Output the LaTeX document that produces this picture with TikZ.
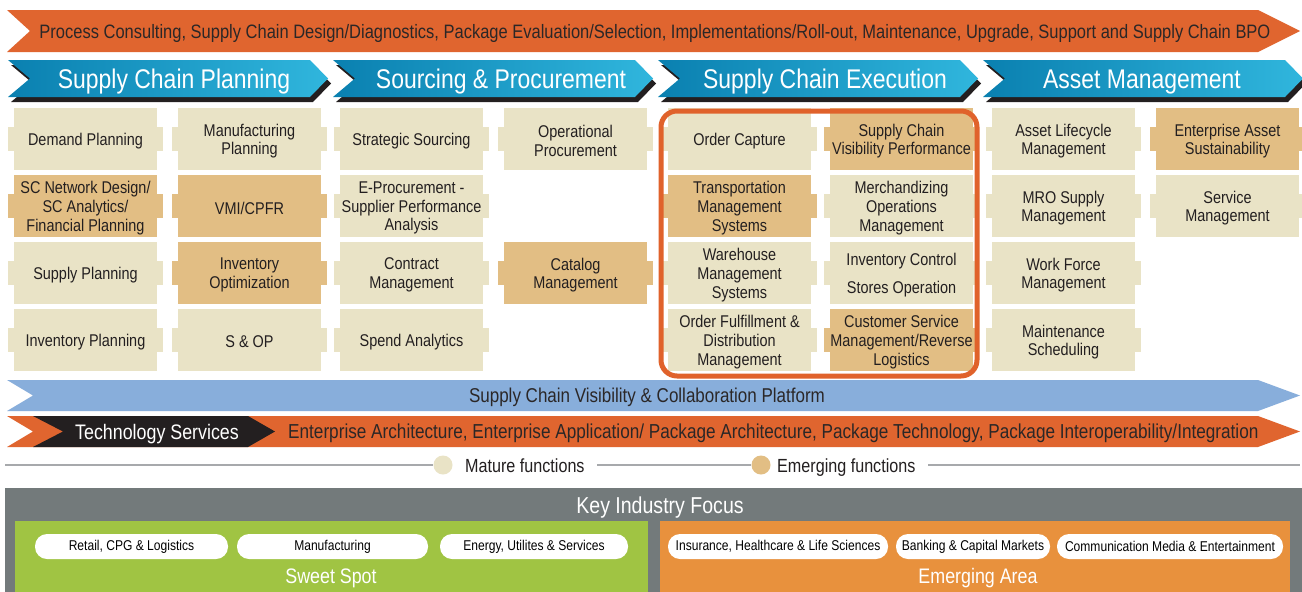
\documentclass[tikz,border=0pt]{standalone}
\usepackage{fontspec}
\setmainfont[FakeStretch=0.85]{Liberation Sans}
\usetikzlibrary{calc}
\definecolor{bandorange}{HTML}{E0652F}
\definecolor{txtdark}{HTML}{2B2727}
\definecolor{hdrdark}{HTML}{0A80B0}
\definecolor{hdrlight}{HTML}{30B6DD}
\definecolor{mature}{HTML}{E9E3C6}
\definecolor{emerging}{HTML}{E2BE84}
\definecolor{bandblue}{HTML}{88AEDB}
\definecolor{techblack}{HTML}{231F20}
\definecolor{legendgray}{HTML}{A7A9AC}
\definecolor{panelgray}{HTML}{737A7B}
\definecolor{sweetgreen}{HTML}{A0C443}
\definecolor{emergorange}{HTML}{E8913D}
\definecolor{outlineorange}{HTML}{E0622B}
\newcommand\funcbox[5]{%
  \fill[#4] ({#2-6},{#3-12}) rectangle ({#2+149},{#3+12});
  \fill[#4] (#2,{#3-31}) rectangle ({#2+143},{#3+31});
  \node[fnbox] (#1) at ({#2+71.5},{#3+2}) {#5};
}
\newcommand\hdrchev[4]{%
  \fill[techblack] ({#1+3},65) -- ({#1+305},65) -- ({#1+323},83.5) -- ({#1+305},102) -- ({#1+3},102) -- ({#1+25},83.5) -- cycle;
  \shade[left color=hdrdark, right color=hdrlight] (#1,60) -- ({#1+302},60) -- ({#1+320},78.5) -- ({#1+302},97) -- (#1,97) -- ({#1+22},78.5) -- cycle;
  \node[hdrtext, anchor=base] (#2) at ({#1+#3},88) {#4};
}
\begin{document}
\begin{tikzpicture}[x=1pt,y=-1pt,
  fnbox/.style={inner sep=0pt, align=center,
    text=techblack, font=\fontsize{17}{18.7}\selectfont},
  hdrtext/.style={text=white, inner sep=0pt, font=\fontsize{27}{30}\selectfont},
  bandtext/.style={text=txtdark, inner sep=0pt, font=\fontsize{20}{22}\selectfont},
  legtext/.style={text=techblack, inner sep=0pt, font=\fontsize{19}{22}\selectfont},
  pill/.style={fill=white, rounded corners=12pt, minimum height=25pt, inner sep=0pt,
    text=black, font=\fontsize{14.2}{16}\selectfont},
  areatext/.style={text=white, inner sep=0pt, font=\fontsize{21}{24}\selectfont}]
\useasboundingbox (0,0) rectangle (1302,592);
\fill[white] (0,0) rectangle (1302,592);

% top banner
\fill[bandorange] (7,10) -- (1258,10) -- (1300,31) -- (1258,52) -- (7,52) -- (30,31) -- cycle;
\node[bandtext, anchor=base, font=\fontsize{19.4}{22}\selectfont] (services) at (655,38) {Process Consulting, Supply Chain Design/Diagnostics, Package Evaluation/Selection, Implementations/Roll-out, Maintenance, Upgrade, Support and Supply Chain BPO};

% header chevrons
\hdrchev{8}{scp}{166}{Supply Chain Planning}
\hdrchev{333}{spr}{168}{Sourcing \& Procurement}
\hdrchev{658}{sce}{167}{Supply Chain Execution}
\hdrchev{983}{am}{159}{Asset Management}

% column 1
\funcbox{c1r1}{14}{139}{mature}{Demand Planning}
\funcbox{c1r2}{14}{206}{emerging}{SC Network Design/\\SC Analytics/\\Financial Planning}
\funcbox{c1r3}{14}{273}{mature}{Supply Planning}
\funcbox{c1r4}{14}{340}{mature}{Inventory Planning}
% column 2
\funcbox{c2r1}{178}{139}{mature}{Manufacturing\\Planning}
\funcbox{c2r2}{178}{206}{emerging}{VMI/CPFR}
\funcbox{c2r3}{178}{273}{emerging}{Inventory\\Optimization}
\funcbox{c2r4}{178}{340}{mature}{S \& OP}
% column 3
\funcbox{c3r1}{340}{139}{mature}{Strategic Sourcing}
\funcbox{c3r2}{340}{206}{mature}{E-Procurement -\\Supplier Performance\\Analysis}
\funcbox{c3r3}{340}{273}{mature}{Contract\\Management}
\funcbox{c3r4}{340}{340}{mature}{Spend Analytics}
% column 4
\funcbox{c4r1}{504}{139}{mature}{Operational\\Procurement}
\funcbox{c4r3}{504}{273}{emerging}{Catalog\\Management}
% column 5
\funcbox{c5r1}{668}{139}{mature}{Order Capture}
\funcbox{c5r2}{668}{206}{emerging}{Transportation\\Management\\Systems}
\funcbox{c5r3}{668}{273}{mature}{Warehouse\\Management\\Systems}
\funcbox{c5r4}{668}{340}{mature}{Order Fulfillment \&\\Distribution\\Management}
% column 6
\funcbox{c6r1}{830}{139}{emerging}{Supply Chain\\Visibility Performance}
\funcbox{c6r2}{830}{206}{mature}{Merchandizing\\Operations\\Management}
\funcbox{c6r3}{830}{273}{mature}{Inventory Control\\[10pt]Stores Operation}
\funcbox{c6r4}{830}{340}{emerging}{Customer Service\\Management/Reverse\\Logistics}
% column 7
\funcbox{c7r1}{992}{139}{mature}{Asset Lifecycle\\Management}
\funcbox{c7r2}{992}{206}{mature}{MRO Supply\\Management}
\funcbox{c7r3}{992}{273}{mature}{Work Force\\Management}
\funcbox{c7r4}{992}{340}{mature}{Maintenance\\Scheduling}
% column 8
\funcbox{c8r1}{1156}{139}{emerging}{Enterprise Asset\\Sustainability}
\funcbox{c8r2}{1156}{206}{mature}{Service\\Management}

% execution outline
\draw[outlineorange, line width=5pt, rounded corners=16pt] (661,111) rectangle (977,376);

% visibility band
\fill[bandblue] (7,380) -- (1258,380) -- (1300,395.5) -- (1258,411) -- (7,411) -- (33,395.5) -- cycle;
\node[bandtext, anchor=base] (platform) at (647,402.5) {Supply Chain Visibility \& Collaboration Platform};

% technology band
\fill[bandorange] (7,416) -- (1258,416) -- (1300,431.5) -- (1258,447) -- (7,447) -- (33,431.5) -- cycle;
\fill[techblack] (33,416) -- (248,416) -- (275,431.5) -- (248,447) -- (33,447) -- (63,431.5) -- cycle;
\node[text=white, inner sep=0pt, anchor=base, font=\fontsize{21}{24}\selectfont] (tech) at (157,439) {Technology Services};
\node[bandtext, anchor=base west, font=\fontsize{20.2}{22}\selectfont] (techlist) at (288,438.7) {Enterprise Architecture, Enterprise Application/ Package Architecture, Package Technology, Package Interoperability/Integration};

% legend
\node[legtext, anchor=base west] (matlbl) at (465,472) {Mature functions};
\node[legtext, anchor=base west] (emglbl) at (777,472) {Emerging functions};
\node[circle, fill=mature, minimum size=19pt, inner sep=0pt] (matdot) at (443,465) {};
\node[circle, fill=emerging, minimum size=19pt, inner sep=0pt] (emgdot) at (761,465) {};
\coordinate (legL) at (5,465);
\coordinate (legR) at (1300,465);
\coordinate (seg2) at (597,465);
\coordinate (seg3) at (928,465);
\draw[legendgray, line width=2pt] (legL) -- (matdot.west);
\draw[legendgray, line width=2pt] (seg2) -- (emgdot.west);
\draw[legendgray, line width=2pt] (seg3) -- (legR);

% key industry focus
\fill[panelgray] (5,488) rectangle (1302,592);
\node[text=white, inner sep=0pt, anchor=base, font=\fontsize{23}{26}\selectfont] (kif) at (660,513) {Key Industry Focus};
\fill[sweetgreen] (15,521) rectangle (648,592);
\fill[emergorange] (660,521) rectangle (1290,592);
\begin{scope}[every node/.append style={yshift=-1pt}]
\node[pill, minimum width=193pt] (retail) at (131.5,545.5) {Retail, CPG \& Logistics};
\node[pill, minimum width=191pt] (manu) at (332.5,545.5) {Manufacturing};
\node[pill, minimum width=188pt] (energy) at (534,545.5) {Energy, Utilites \& Services};
\node[pill, minimum width=220pt] (insur) at (778,545.5) {Insurance, Healthcare \& Life Sciences};
\node[pill, minimum width=154pt] (bank) at (973,545.5) {Banking \& Capital Markets};
\node[pill, minimum width=226pt] (comm) at (1170,545.5) {Communication Media \& Entertainment};
\end{scope}
\node[areatext, anchor=base] (sweet) at (331,583.5) {Sweet Spot};
\node[areatext, anchor=base] (emarea) at (978,583.5) {Emerging Area};
\end{tikzpicture}
\end{document}
